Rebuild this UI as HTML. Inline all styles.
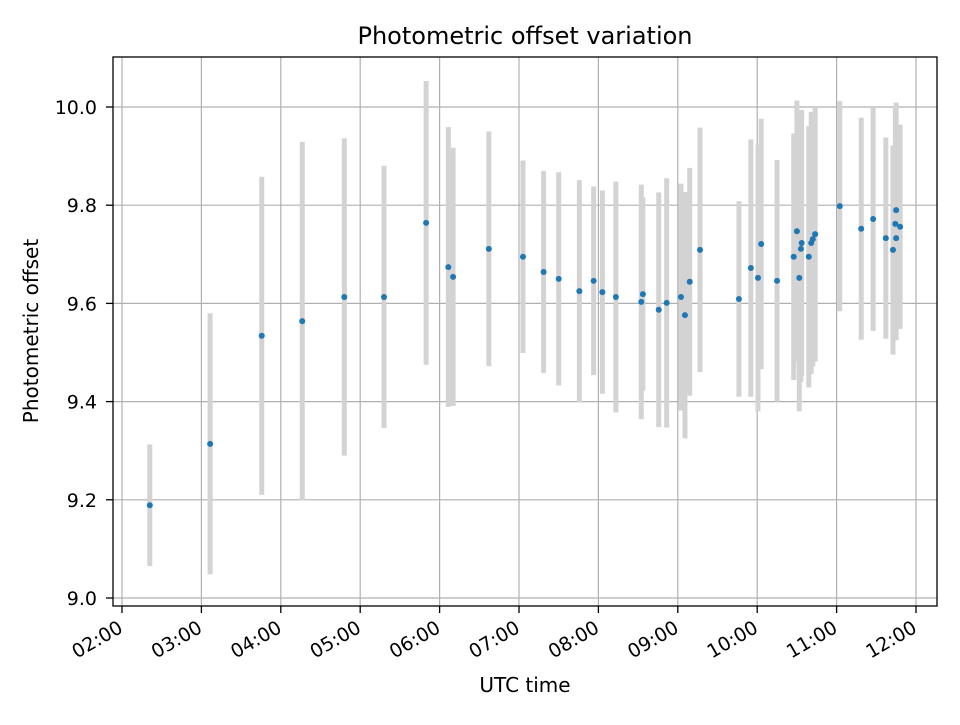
<!DOCTYPE html>
<html><head><meta charset="utf-8"><style>
body{margin:0;background:#fff;}
svg{font-family:"DejaVu Sans","Liberation Sans",sans-serif;}
</style></head><body>
<svg id="chart" width="960" height="720" xmlns="http://www.w3.org/2000/svg">
<rect width="960" height="720" fill="#fff"/>
<g id="grid"></g>
<g id="bars"></g>
<g id="pts"></g>
<rect x="113" y="57" width="824" height="549" fill="none" stroke="#000" stroke-width="1.3"/>
<g id="ticks"></g>
<text x="525" y="44" text-anchor="middle" style="font-size:24px">Photometric offset variation</text>
<text x="525" y="692" text-anchor="middle" style="font-size:20px">UTC time</text>
<text transform="translate(38,331) rotate(-90)" text-anchor="middle" style="font-size:20px">Photometric offset</text>
</svg>
<script>
const times=[2.35,3.11,3.76,4.27,4.80,5.30,5.83,6.11,6.17,6.62,7.05,7.31,7.50,7.76,7.94,8.05,8.22,8.54,8.56,8.76,8.86,9.04,9.09,9.15,9.28,9.77,9.92,10.01,10.05,10.25,10.46,10.50,10.53,10.55,10.56,10.65,10.68,10.70,10.73,11.04,11.31,11.46,11.62,11.71,11.74,11.75,11.75,11.80];
const offsets=[9.189,9.314,9.534,9.564,9.613,9.613,9.764,9.674,9.654,9.711,9.695,9.664,9.650,9.625,9.646,9.623,9.613,9.603,9.619,9.587,9.601,9.613,9.576,9.644,9.709,9.609,9.672,9.652,9.721,9.646,9.695,9.747,9.652,9.711,9.723,9.695,9.723,9.731,9.741,9.798,9.752,9.772,9.733,9.709,9.762,9.790,9.733,9.756];
const errors=[0.124,0.266,0.324,0.365,0.323,0.267,0.289,0.285,0.263,0.239,0.196,0.206,0.217,0.226,0.192,0.207,0.235,0.239,0.197,0.239,0.254,0.231,0.251,0.232,0.249,0.199,0.262,0.272,0.255,0.246,0.251,0.266,0.272,0.271,0.271,0.266,0.267,0.259,0.259,0.214,0.226,0.228,0.205,0.213,0.236,0.219,0.208,0.208];
const xTicks=[2,3,4,5,6,7,8,9,10,11,12];
const xTickLabels=["02:00","03:00","04:00","05:00","06:00","07:00","08:00","09:00","10:00","11:00","12:00"];
const yTicks=[9.0,9.2,9.4,9.6,9.8,10.0];
const yTickLabels=["9.0","9.2","9.4","9.6","9.8","10.0"];
const NS="http://www.w3.org/2000/svg";
const X=h=>122+(h-2)*79.4;
const Y=v=>107+(10-v)*491;
function mk(tag,attrs,parent){const e=document.createElementNS(NS,tag);for(const k in attrs)e.setAttribute(k,attrs[k]);document.getElementById(parent).appendChild(e);return e;}
xTicks.forEach((t,i)=>{
  const x=X(t);
  const g=mk('line',{x1:x,x2:x,y1:57,y2:606,stroke:'#b0b0b0','stroke-width':1.2},'grid');
  
  
  const tk=mk('line',{x1:x,x2:x,y1:606,y2:613,stroke:'#000','stroke-width':1.3},'ticks');
  
  
  const tx=mk('text',{transform:`translate(${x-5},${619}) rotate(-30)`,'text-anchor':'end',style:'font-size:19px',dy:'0.75em'},'ticks');
  tx.textContent=xTickLabels[i];
  
  
});
yTicks.forEach((t,i)=>{
  const y=Y(t);
  const g=mk('line',{x1:113,x2:937,y1:y,y2:y,stroke:'#b0b0b0','stroke-width':1.2},'grid');
  
  
  const tk=mk('line',{x1:106,x2:113,y1:y,y2:y,stroke:'#000','stroke-width':1.3},'ticks');
  
  
  const tx=mk('text',{x:97,y:y+7,'text-anchor':'end',style:'font-size:19px'},'ticks');
  tx.textContent=yTickLabels[i];
  
  
});
times.forEach((t,i)=>{
  const x=X(t);
  const b=mk('line',{x1:x,x2:x,y1:Y(offsets[i]+errors[i]),y2:Y(offsets[i]-errors[i]),stroke:'#d3d3d3','stroke-width':5},'bars');
  
  
  const p=mk('circle',{cx:x,cy:Y(offsets[i]),r:3,fill:'#1f77b4'},'pts');
  
  
});
</script>
</body></html>
